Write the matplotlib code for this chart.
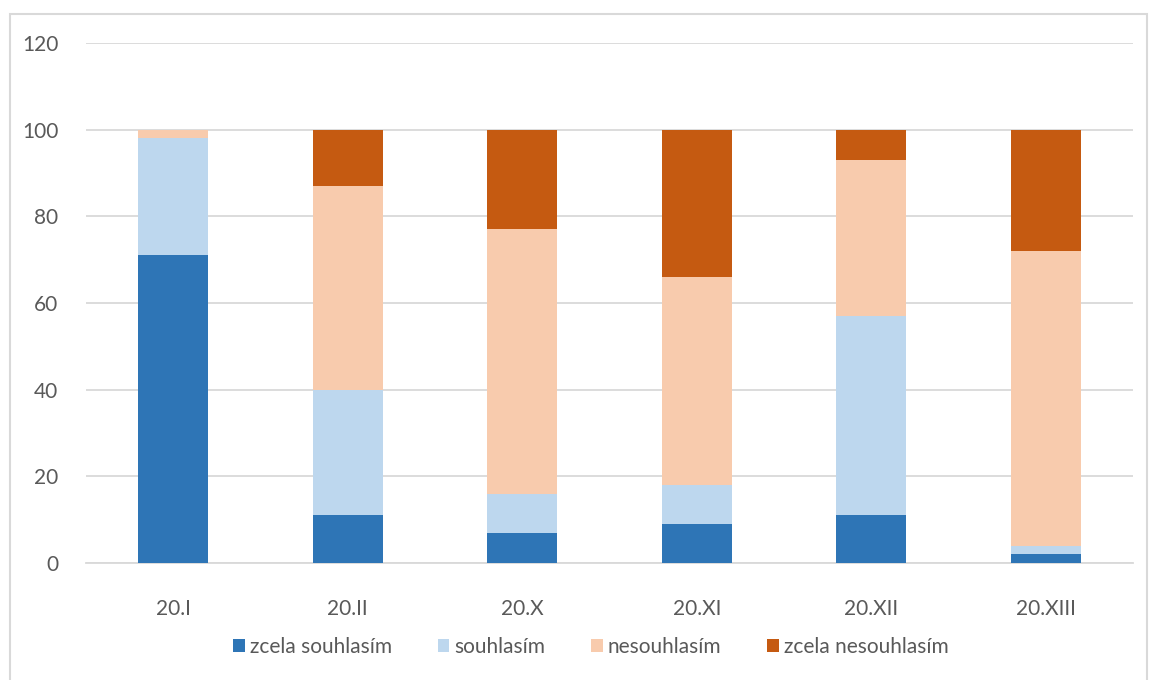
import matplotlib.pyplot as plt
import numpy as np
from matplotlib.patches import Rectangle

plt.rcParams['font.family'] = ['Lato', 'DejaVu Sans']

categories = ['20.I', '20.II', '20.X', '20.XI', '20.XII', '20.XIII']
series_names = ['zcela souhlasím', 'souhlasím', 'nesouhlasím', 'zcela nesouhlasím']
zcela_souhlasim = [71, 11, 7, 9, 11, 2]
souhlasim = [27, 29, 9, 9, 46, 2]
nesouhlasim = [2, 47, 61, 48, 36, 68]
zcela_nesouhlasim = [0, 13, 23, 34, 7, 28]
colors = ['#2E75B6', '#BDD7EE', '#F8CBAD', '#C55A11']
yticks = [0, 20, 40, 60, 80, 100, 120]

fig = plt.figure(figsize=(11.49, 6.8), dpi=100)
ax = fig.add_axes([86 / 1149, 117 / 680, 1047 / 1149, 520 / 680])

# chart border
fig.patches.append(Rectangle((10 / 1149, -10 / 680), 1137 / 1149, 676 / 680,
                             transform=fig.transFigure, fill=False,
                             edgecolor='#D9D9D9', linewidth=1.5))

x = np.arange(len(categories))
bottom = np.zeros(len(categories))
for name, vals, c in zip(series_names,
                         [zcela_souhlasim, souhlasim, nesouhlasim, zcela_nesouhlasim],
                         colors):
    ax.bar(x, vals, 0.4, bottom=bottom, color=c, label=name, zorder=3)
    bottom += np.array(vals)

ax.set_xlim(-0.5, len(categories) - 0.5)
ax.set_ylim(0, 120)
ax.set_yticks(yticks)
ax.set_xticks(x)
ax.set_xticklabels(categories)
ax.grid(axis='y', color='#D9D9D9', linewidth=1.3, zorder=0)
for s in ['top', 'right', 'left']:
    ax.spines[s].set_visible(False)
ax.spines['bottom'].set_color('#D9D9D9')
ax.spines['bottom'].set_linewidth(1.3)
ax.tick_params(length=0, labelsize=15, colors='#595959')
ax.tick_params(axis='x', pad=26)
ax.tick_params(axis='y', pad=20)

fig.legend(loc='center', bbox_to_anchor=(591 / 1149, 1 - 647 / 680), ncol=4,
           frameon=False, fontsize=15, handlelength=0.55, handleheight=0.55,
           handletextpad=0.25, columnspacing=2.2, labelcolor='#595959')

fig.savefig('out.png', dpi=100)
